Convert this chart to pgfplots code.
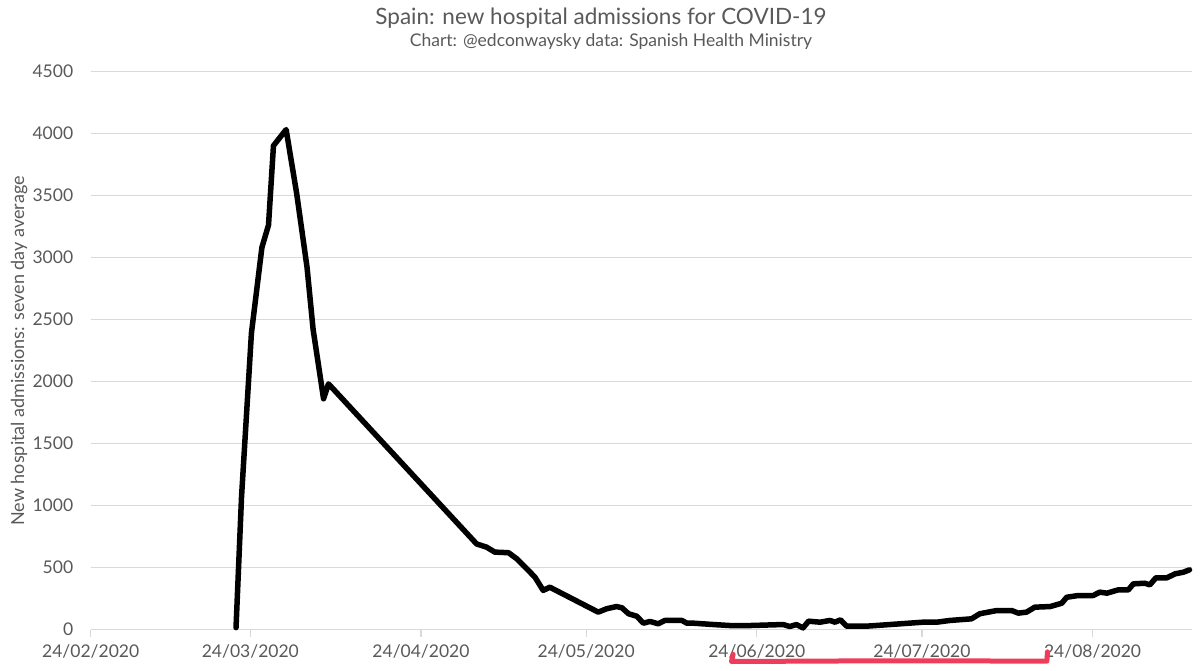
\documentclass[border=0pt]{standalone}
\usepackage{fontspec}
\setmainfont{Lato}
\usepackage{pgfplots}
\usepackage{pgfplotstable}
\pgfplotsset{compat=1.18}
\definecolor{txt}{HTML}{595959}
\definecolor{grd}{HTML}{D9D9D9}
\definecolor{annot}{HTML}{EE3D5A}

\pgfplotstableread{
day val
26.4 15
27.4 1070
29.2 2390
31.1 3080
32.3 3260
33.2 3900
35.5 4030
37.4 3520
39.3 2920
40.4 2420
42.3 1860
43.2 1980
70.1 690
71.9 664
73.4 624
75.9 619
77.4 570
79.2 490
80.7 422
82.2 315
83.4 341
92.2 140
93.7 167
95.5 185
96.5 175
97.7 127
99.2 107
100.4 51
101.6 65
103.1 46
104.3 73
107.4 73
108.3 51
109.5 51
113.1 40
116.1 32
119.8 32
125.8 40
127.0 24
128.2 40
129.4 13
130.4 67
132.5 59
134.3 73
135.2 59
136.2 78
137.3 27
141.0 27
145.2 40
151.2 59
153.7 59
156.1 73
160.0 86
161.5 127
164.6 153
167.3 153
168.5 132
170.0 140
171.5 180
174.3 185
176.4 212
177.3 260
179.4 274
182.1 274
183.3 301
184.6 293
186.7 320
188.5 320
189.4 368
191.5 373
192.4 360
193.5 417
195.5 417
197.0 449
198.5 462
199.6 481
}\admissions

\begin{document}
\begin{tikzpicture}[x=1pt,y=1pt]
\useasboundingbox (0,0) rectangle (1200,670);
\node[txt, font=\fontsize{22.5}{26}\selectfont] at (601,652) {Spain: new hospital admissions for COVID-19};
\node[txt, font=\fontsize{17.5}{20}\selectfont] at (611,628) {Chart: @edconwaysky data: Spanish Health Ministry};
\begin{axis}[
  at={(90.7pt,40.5pt)}, anchor=south west,
  scale only axis, width=1101pt, height=558.2pt,
  xmin=0, xmax=200, ymin=0, ymax=4500,
  ytick={0,500,...,4500},
  xtick={0,29,60,90,121,151,182},
  xticklabels={24/02/2020,24/03/2020,24/04/2020,24/05/2020,24/06/2020,24/07/2020,24/08/2020},
  axis x line*=bottom, axis y line*=left,
  y axis line style={draw=none},
  x axis line style={grd, line width=1.3pt, -},
  ymajorgrids, grid style={grd, line width=1.3pt},
  xtick style={grd, line width=1.2pt}, xtick align=outside, major tick length=7pt,
  ytick style={draw=none},
  tick label style={txt, font=\fontsize{17.5}{20}\selectfont},
  /pgf/number format/assume math mode=true,
  yticklabel style={/pgf/number format/1000 sep={}, anchor=east, xshift=-14pt},
  xticklabel style={yshift=-5pt},
  ylabel={New hospital admissions: seven day average},
  ylabel style={txt, font=\fontsize{18}{21}\selectfont, at={(rel axis cs:-0.065,0.499)}, anchor=center},
  clip=false,
]
\addplot[black, line width=5.5pt, line join=round, line cap=round] table[x=day, y=val] {\admissions};
\draw[annot, line width=5pt, line cap=round, line join=round]
  (axis cs:116.7,-200) -- (axis cs:116.4,-258) -- (axis cs:145,-252) -- (axis cs:173.7,-255) -- (axis cs:173.8,-180);
\end{axis}
\end{tikzpicture}
\end{document}
